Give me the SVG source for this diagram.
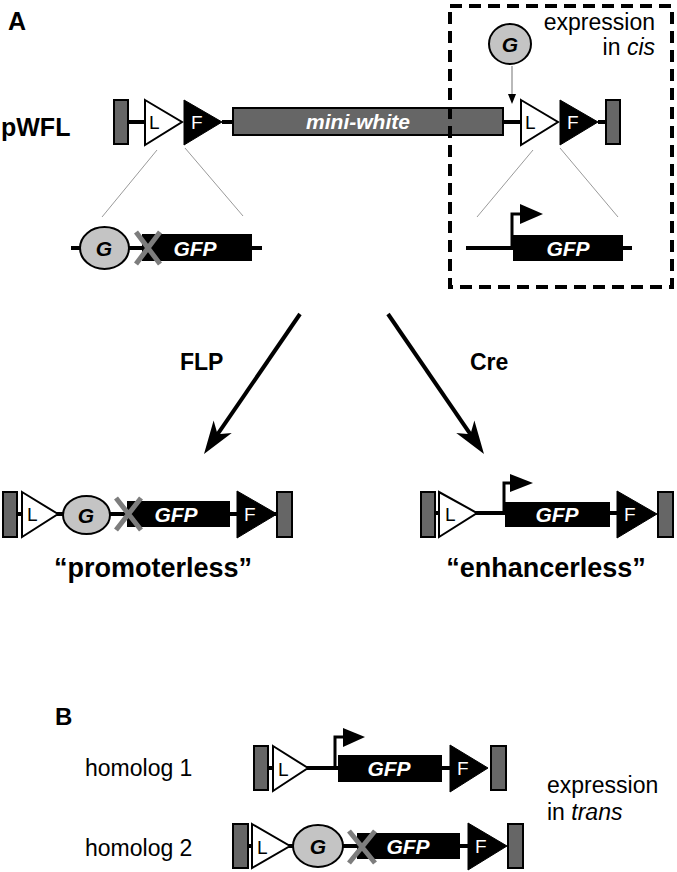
<svg xmlns="http://www.w3.org/2000/svg" width="677" height="872" viewBox="0 0 677 872">
<style>
text{font-family:"Liberation Sans",Arial,sans-serif}
.lbl{font-weight:bold;fill:#000}
.reg{fill:#000}
.blk{fill:#666;stroke:#000;stroke-width:2}
.ltri{fill:#fff;stroke:#000;stroke-width:2}
.ftri{fill:#000;stroke:#000;stroke-width:1}
.bb{stroke:#000;stroke-width:4;fill:none}
.gfp{fill:#000}
.gfpt{fill:#fff;font-weight:bold;font-style:italic;font-size:21px;text-anchor:middle}
.g{fill:#c4c4c4;stroke:#000;stroke-width:2}
.gt{fill:#000;font-weight:bold;font-style:italic;font-size:21px;text-anchor:middle}
.x{stroke:#7d7d7d;stroke-width:5;fill:none}
.thin{stroke:#9a9a9a;stroke-width:1;fill:none}
.lt{font-size:19px;fill:#000}
.ft{font-size:19px;fill:#fff}
.prom{stroke:#000;stroke-width:3;fill:none}
.arr{stroke:#000;stroke-width:4;fill:none}
</style>
<defs>
<marker id="ah" markerUnits="userSpaceOnUse" markerWidth="40" markerHeight="30" viewBox="-24 -13 40 26" refX="0" refY="0" orient="auto">
<path d="M12,0 L-21,-11 L-12,0 L-21,11 Z" fill="#000"/>
</marker>
</defs>

<text class="lbl" x="8" y="30" font-size="25">A</text>
<text class="lbl" x="1" y="136" font-size="25">pWFL</text>

<g id="pwfl">
<path class="bb" d="M128,122 H146 M222,122 H234 M503,122 H522 M598,122 H607"/>
<rect class="blk" x="114" y="100" width="14" height="44"/>
<polygon class="ltri" points="145,100 182,122 145,145"/>
<text class="lt" x="149" y="129">L</text>
<polygon class="ftri" points="184,100 222,122 184,145"/>
<text class="ft" x="191" y="129">F</text>
<rect x="233" y="108" width="270" height="27" fill="#666" stroke="#000" stroke-width="2"/>
<text x="358" y="129" fill="#fff" font-weight="bold" font-style="italic" font-size="21" text-anchor="middle">mini-white</text>
<polygon class="ltri" points="521,100 558,122 521,145"/>
<text class="lt" x="525" y="129">L</text>
<polygon class="ftri" points="560,100 598,122 560,145"/>
<text class="ft" x="567" y="129">F</text>
<rect class="blk" x="606" y="100" width="14" height="44"/>
</g>

<g id="cis-box">
<rect x="450" y="6" width="222" height="281" fill="none" stroke="#000" stroke-width="4" stroke-dasharray="12 7"/>
<text class="reg" x="655" y="30" font-size="23" text-anchor="end">expression</text>
<text class="reg" x="655" y="55" font-size="23" text-anchor="end">in <tspan font-style="italic">cis</tspan></text>
</g>

<g id="g-top">
<ellipse class="g" cx="510" cy="44" rx="21" ry="20"/>
<text class="gt" x="510" y="52">G</text>
<line x1="512" y1="66" x2="512" y2="95" stroke="#8a8a8a" stroke-width="1.2"/>
<polygon points="508,94 512,104 516,94" fill="#000"/>
</g>

<g id="zoom-lines">
<line class="thin" x1="157" y1="150" x2="102" y2="217"/>
<line class="thin" x1="185" y1="148" x2="243" y2="216"/>
<line class="thin" x1="533" y1="150" x2="477" y2="217"/>
<line class="thin" x1="560" y1="148" x2="618" y2="217"/>
</g>

<g id="insert-left">
<line class="bb" x1="71" y1="248" x2="262" y2="248"/>
<ellipse class="g" cx="104.5" cy="248" rx="24.5" ry="21"/>
<text class="gt" x="104" y="256">G</text>
<rect class="gfp" x="142" y="234" width="110" height="27"/>
<text class="gfpt" x="195" y="256">GFP</text>
<path class="x" d="M136,232 L160,264 M160,232 L136,264"/>
</g>

<g id="insert-right">
<line class="bb" x1="466" y1="248" x2="632" y2="248"/>
<rect class="gfp" x="513" y="235" width="110" height="26"/>
<text class="gfpt" x="568" y="256">GFP</text>
<polyline class="prom" points="512,249 512,214 521,214"/>
<polygon points="520,204 543,214 520,224" fill="#000"/>
</g>

<g id="connectors">
<line class="arr" x1="300" y1="314" x2="210.8" y2="444.1" marker-end="url(#ah)"/>
<line class="arr" x1="388" y1="314" x2="477.2" y2="444.1" marker-end="url(#ah)"/>
</g>
<text class="lbl" x="180" y="370" font-size="23">FLP</text>
<text class="lbl" x="470" y="370" font-size="23">Cre</text>

<g id="promoterless">
<line class="bb" x1="17" y1="514" x2="277" y2="514"/>
<rect class="blk" x="3" y="492" width="14" height="45"/>
<polygon class="ltri" points="22,492 58,514 22,537"/>
<text class="lt" x="27" y="521" font-size="18">L</text>
<ellipse class="g" cx="86.5" cy="515" rx="23.5" ry="19"/>
<text class="gt" x="86" y="523">G</text>
<rect class="gfp" x="127" y="501" width="103" height="26"/>
<text class="gfpt" x="176" y="522">GFP</text>
<path class="x" d="M116,498 L141,530 M141,498 L116,530"/>
<polygon class="ftri" points="237,491 277,514 237,538"/>
<text class="ft" x="244" y="521">F</text>
<rect class="blk" x="277" y="492" width="15" height="45"/>
<text class="lbl" x="153" y="577" font-size="27" text-anchor="middle">“promoterless”</text>
</g>

<g id="enhancerless">
<line class="bb" x1="435" y1="513" x2="617" y2="513"/>
<rect class="blk" x="421" y="492" width="14" height="45"/>
<polygon class="ltri" points="439,492 477,513 439,537"/>
<text class="lt" x="445" y="521" font-size="18">L</text>
<rect class="gfp" x="505" y="502" width="105" height="25"/>
<text class="gfpt" x="557" y="522">GFP</text>
<polyline class="prom" points="504,514 504,483 511,483"/>
<polygon points="510,474 533,483 510,492" fill="#000"/>
<polygon class="ftri" points="617,491 657,514 617,538"/>
<text class="ft" x="624" y="521">F</text>
<rect class="blk" x="658" y="492" width="15" height="45"/>
<text class="lbl" x="546" y="577" font-size="27" text-anchor="middle">“enhancerless”</text>
</g>

<text class="lbl" x="55" y="725" font-size="24">B</text>
<text class="reg" x="85" y="776" font-size="23">homolog 1</text>
<text class="reg" x="85" y="856" font-size="23">homolog 2</text>
<text class="reg" x="547" y="793" font-size="23">expression</text>
<text class="reg" x="547" y="820" font-size="23">in <tspan font-style="italic">trans</tspan></text>

<g id="homolog1">
<line class="bb" x1="268" y1="768" x2="450" y2="768"/>
<rect class="blk" x="254" y="746" width="14" height="44"/>
<polygon class="ltri" points="273,746 308,768 273,791"/>
<text class="lt" x="278" y="776" font-size="18">L</text>
<rect class="gfp" x="338" y="755" width="104" height="27"/>
<text class="gfpt" x="389" y="776">GFP</text>
<polyline class="prom" points="335,769 335,737 344,737"/>
<polygon points="343,728 365,737 343,747" fill="#000"/>
<polygon class="ftri" points="450,745 488,768 450,792"/>
<text class="ft" x="457" y="775">F</text>
<rect class="blk" x="491" y="746" width="15" height="44"/>
</g>

<g id="homolog2">
<line class="bb" x1="248" y1="846" x2="468" y2="846"/>
<rect class="blk" x="233" y="824" width="15" height="44"/>
<polygon class="ltri" points="252,824 290,846 252,868"/>
<text class="lt" x="257" y="854" font-size="18">L</text>
<ellipse class="g" cx="318" cy="846" rx="25" ry="21"/>
<text class="gt" x="318" y="854">G</text>
<rect class="gfp" x="357" y="833" width="103" height="26"/>
<text class="gfpt" x="408" y="854">GFP</text>
<path class="x" d="M349,831 L375,863 M375,831 L349,863"/>
<polygon class="ftri" points="468,823 507,846 468,870"/>
<text class="ft" x="475" y="853">F</text>
<rect class="blk" x="508" y="824" width="15" height="44"/>
</g>
</svg>
